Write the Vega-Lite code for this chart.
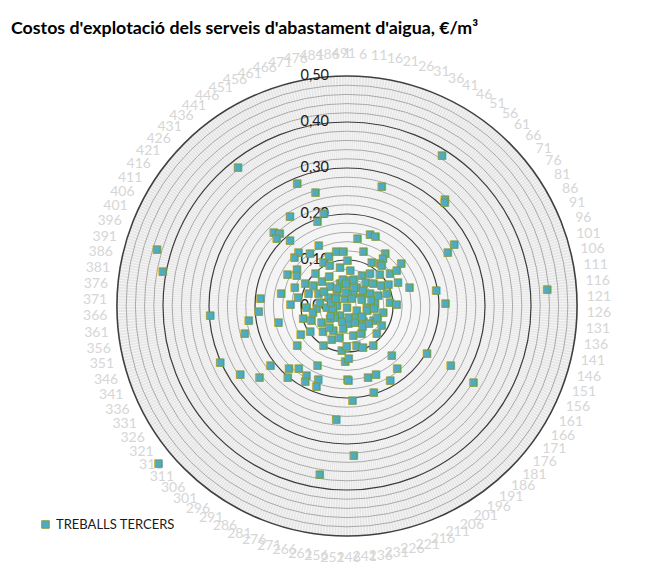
{
"$schema": "https://vega.github.io/schema/vega-lite/v6.json",
"width": 682, "height": 590,
"autosize": "none",
"padding": {"left": 6, "top": 11, "right": 0, "bottom": 0},
"background": "white",
"config": {"view": {"stroke": "#a6a6a6", "strokeWidth": 2}, "font": "Lato"},
"title": {"text": "Costos d'explotació dels serveis d'abastament d'aigua, €/m³", "anchor": "start", "frame": "group", "font": "Lato", "fontSize": 17.8, "fontWeight": "bold", "color": "#000000", "offset": -41, "dx": 5, "baseline": "alphabetic"},
"datasets": {
"spokes": [1,2,3,4,5,6,7,8,9,10,11,12,13,14,15,16,17,18,19,20,21,22,23,24,25,26,27,28,29,30,31,32,33,34,35,36,37,38,39,40,41,42,43,44,45,46,47,48,49,50,51,52,53,54,55,56,57,58,59,60,61,62,63,64,65,66,67,68,69,70,71,72,73,74,75,76,77,78,79,80,81,82,83,84,85,86,87,88,89,90,91,92,93,94,95,96,97,98,99,100,101,102,103,104,105,106,107,108,109,110,111,112,113,114,115,116,117,118,119,120,121,122,123,124,125,126,127,128,129,130,131,132,133,134,135,136,137,138,139,140,141,142,143,144,145,146,147,148,149,150,151,152,153,154,155,156,157,158,159,160,161,162,163,164,165,166,167,168,169,170,171,172,173,174,175,176,177,178,179,180,181,182,183,184,185,186,187,188,189,190,191,192,193,194,195,196,197,198,199,200,201,202,203,204,205,206,207,208,209,210,211,212,213,214,215,216,217,218,219,220,221,222,223,224,225,226,227,228,229,230,231,232,233,234,235,236,237,238,239,240,241,242,243,244,245,246,247,248,249,250,251,252,253,254,255,256,257,258,259,260,261,262,263,264,265,266,267,268,269,270,271,272,273,274,275,276,277,278,279,280,281,282,283,284,285,286,287,288,289,290,291,292,293,294,295,296,297,298,299,300,301,302,303,304,305,306,307,308,309,310,311,312,313,314,315,316,317,318,319,320,321,322,323,324,325,326,327,328,329,330,331,332,333,334,335,336,337,338,339,340,341,342,343,344,345,346,347,348,349,350,351,352,353,354,355,356,357,358,359,360,361,362,363,364,365,366,367,368,369,370,371,372,373,374,375,376,377,378,379,380,381,382,383,384,385,386,387,388,389,390,391,392,393,394,395,396,397,398,399,400,401,402,403,404,405,406,407,408,409,410,411,412,413,414,415,416,417,418,419,420,421,422,423,424,425,426,427,428,429,430,431,432,433,434,435,436,437,438,439,440,441,442,443,444,445,446,447,448,449,450,451,452,453,454,455,456,457,458,459,460,461,462,463,464,465,466,467,468,469,470,471,472,473,474,475,476,477,478,479,480,481,482,483,484,485,486,487,488,489,490,491],
"catlabels": [1,6,11,16,21,26,31,36,41,46,51,56,61,66,71,76,81,86,91,96,101,106,111,116,121,126,131,136,141,146,151,156,161,166,171,176,181,186,191,196,201,206,211,216,221,226,231,236,241,246,251,256,261,266,271,276,281,286,291,296,301,306,311,316,321,326,331,336,341,346,351,356,361,366,371,376,381,386,391,396,401,406,411,416,421,426,431,436,441,446,451,456,461,466,471,476,481,486,491],
"minor": [{"r":0.02},{"r":0.04},{"r":0.06},{"r":0.08},{"r":0.12},{"r":0.14},{"r":0.16},{"r":0.18},{"r":0.22},{"r":0.24},{"r":0.26},{"r":0.28},{"r":0.32},{"r":0.34},{"r":0.36},{"r":0.38},{"r":0.42},{"r":0.44},{"r":0.46},{"r":0.48}],
"major": [{"r":0.1},{"r":0.2},{"r":0.3},{"r":0.4}],
"outer": [{"r":0.5}],
"ticks": [{"r":0,"t":"0,00"},{"r":0.1,"t":"0,10"},{"r":0.2,"t":"0,20"},{"r":0.3,"t":"0,30"},{"r":0.4,"t":"0,40"},{"r":0.5,"t":"0,50"}],
"pts": [
{"c":440,"v":0.384},{"c":462,"v":0.289},{"c":471,"v":0.258},{"c":473,"v":0.209},{"c":466,"v":0.196},{"c":448,"v":0.232},{"c":431,"v":0.226},{"c":434,"v":0.216},{"c":429,"v":0.212},{"c":436,"v":0.189},{"c":458,"v":0.146},{"c":435,"v":0.158},{"c":392,"v":0.431},{"c":384,"v":0.408},{"c":376,"v":0.189},{"c":385,"v":0.146},{"c":408,"v":0.147},{"c":419,"v":0.135},{"c":372,"v":0.123},{"c":465,"v":0.115},{"c":477,"v":0.122},{"c":487,"v":0.120},
{"c":45,"v":0.387},{"c":23,"v":0.271},{"c":59,"v":0.315},{"c":60,"v":0.310},{"c":83,"v":0.269},{"c":85,"v":0.249},{"c":117,"v":0.437},{"c":110,"v":0.197},{"c":101,"v":0.142},{"c":71,"v":0.151},{"c":13,"v":0.149},{"c":25,"v":0.165},{"c":31,"v":0.165},{"c":24,"v":0.124},{"c":50,"v":0.142},{"c":51,"v":0.131},{"c":52,"v":0.119},{"c":121,"v":0.214},
{"c":364,"v":0.298},{"c":365,"v":0.192},{"c":358,"v":0.216},{"c":351,"v":0.153},{"c":349,"v":0.230},{"c":317,"v":0.138},{"c":337,"v":0.301},{"c":325,"v":0.275},{"c":316,"v":0.245},{"c":318,"v":0.210},{"c":305,"v":0.185},{"c":298,"v":0.171},{"c":301,"v":0.201},{"c":288,"v":0.174},{"c":286,"v":0.187},{"c":283,"v":0.143},{"c":276,"v":0.170},{"c":275,"v":0.186},{"c":254,"v":0.246},{"c":259,"v":0.371},{"c":315,"v":0.533},{"c":246,"v":0.159},{"c":249,"v":0.120},
{"c":165,"v":0.201},{"c":164,"v":0.259},{"c":166,"v":0.321},{"c":189,"v":0.145},{"c":193,"v":0.173},{"c":215,"v":0.160},{"c":224,"v":0.160},{"c":205,"v":0.186},{"c":223,"v":0.196},{"c":242,"v":0.205},{"c":245,"v":0.161},{"c":243,"v":0.324},
{"c":428,"v":0.156},{"c":444,"v":0.140},{"c":454,"v":0.109},{"c":41,"v":0.110},{"c":412,"v":0.128},{"c":432,"v":0.099},{"c":461,"v":0.097},{"c":478,"v":0.087},{"c":8,"v":0.079},{"c":36,"v":0.075},{"c":49,"v":0.087},{"c":56,"v":0.117},{"c":73,"v":0.117},{"c":75,"v":0.133},{"c":397,"v":0.121},{"c":409,"v":0.104},{"c":413,"v":0.086},{"c":430,"v":0.076},{"c":437,"v":0.056},{"c":469,"v":0.052},{"c":5,"v":0.057},{"c":37,"v":0.047},{"c":53,"v":0.066},{"c":68,"v":0.076},{"c":81,"v":0.088},{"c":86,"v":0.102},{"c":89,"v":0.123},{"c":383,"v":0.108},{"c":394,"v":0.088},{"c":402,"v":0.068},{"c":406,"v":0.045},{"c":443,"v":0.038},{"c":472,"v":0.017},{"c":38,"v":0.031},{"c":79,"v":0.038},{"c":84,"v":0.057},{"c":97,"v":0.072},{"c":100,"v":0.091},{"c":116,"v":0.094},{"c":368,"v":0.088},{"c":363,"v":0.066},{"c":367,"v":0.044},{"c":377,"v":0.022},{"c":250,"v":0.003},{"c":154,"v":0.023},{"c":126,"v":0.043},{"c":115,"v":0.061},{"c":136,"v":0.080},{"c":120,"v":0.108},{"c":348,"v":0.099},{"c":340,"v":0.083},{"c":326,"v":0.065},{"c":320,"v":0.046},{"c":297,"v":0.025},{"c":240,"v":0.038},{"c":190,"v":0.031},{"c":183,"v":0.049},{"c":162,"v":0.065},{"c":163,"v":0.086},{"c":327,"v":0.117},{"c":323,"v":0.096},{"c":306,"v":0.076},{"c":287,"v":0.060},{"c":260,"v":0.049},{"c":230,"v":0.065},{"c":208,"v":0.067},{"c":182,"v":0.088},{"c":289,"v":0.099},{"c":256,"v":0.096},{"c":247,"v":0.088},{"c":228,"v":0.087},{"c":217,"v":0.095},{"c":200,"v":0.102},{"c":244,"v":0.114},
{"c":10,"v":0.030},{"c":20,"v":0.060},{"c":30,"v":0.045},{"c":46,"v":0.020},{"c":62,"v":0.050},{"c":90,"v":0.035},{"c":105,"v":0.055},{"c":140,"v":0.045},{"c":150,"v":0.070},{"c":170,"v":0.040},{"c":175,"v":0.060},{"c":195,"v":0.055},{"c":210,"v":0.040},{"c":235,"v":0.025},{"c":265,"v":0.070},{"c":270,"v":0.035},{"c":280,"v":0.080},{"c":300,"v":0.060},{"c":310,"v":0.035},{"c":330,"v":0.040},{"c":355,"v":0.075},{"c":360,"v":0.030},{"c":380,"v":0.060},{"c":390,"v":0.035},{"c":415,"v":0.060},{"c":420,"v":0.030},{"c":450,"v":0.075},{"c":455,"v":0.045},{"c":480,"v":0.060},{"c":485,"v":0.030},{"c":490,"v":0.050},{"c":2,"v":0.100},{"c":63,"v":0.100},{"c":130,"v":0.060}
]
},
"layer": [
{"data": {"name": "outer"}, "mark": {"type": "arc", "fill": "#e6e6e6"},
 "encoding": {"theta": {"datum": 1, "type": "quantitative", "stack": null, "scale": {"domain": [1, 492], "range": [0, 6.283185307179586]}}, "theta2": {"datum": 492},
  "radius": {"field": "r", "type": "quantitative", "stack": null, "scale": {"type": "linear", "domain": [0, 0.5], "range": [0, 230], "zero": true, "nice": false}}}},
{"data": {"name": "spokes"}, "mark": {"type": "arc", "filled": false, "stroke": "#ffffff", "strokeWidth": 0.6, "strokeOpacity": 0.7},
 "encoding": {"theta": {"field": "data", "type": "quantitative", "stack": null, "scale": {"domain": [1, 492], "range": [0, 6.283185307179586]}}, "theta2": {"field": "data"},
  "radius": {"datum": 0.5, "type": "quantitative", "stack": null, "scale": {"type": "linear", "domain": [0, 0.5], "range": [0, 230], "zero": true, "nice": false}}}},
{"data": {"name": "minor"}, "mark": {"type": "arc", "filled": false, "stroke": "#aaaaaa", "strokeWidth": 1},
 "encoding": {"theta": {"datum": 1, "type": "quantitative", "stack": null, "scale": {"domain": [1, 492], "range": [0, 6.283185307179586]}}, "theta2": {"datum": 492},
  "radius": {"field": "r", "type": "quantitative", "stack": null, "scale": {"type": "linear", "domain": [0, 0.5], "range": [0, 230], "zero": true, "nice": false}}}},
{"data": {"name": "major"}, "mark": {"type": "arc", "filled": false, "stroke": "#3c3c3c", "strokeWidth": 1.2},
 "encoding": {"theta": {"datum": 1, "type": "quantitative", "stack": null, "scale": {"domain": [1, 492], "range": [0, 6.283185307179586]}}, "theta2": {"datum": 492},
  "radius": {"field": "r", "type": "quantitative", "stack": null, "scale": {"type": "linear", "domain": [0, 0.5], "range": [0, 230], "zero": true, "nice": false}}}},
{"data": {"name": "outer"}, "mark": {"type": "arc", "filled": false, "stroke": "#404040", "strokeWidth": 1.6},
 "encoding": {"theta": {"datum": 1, "type": "quantitative", "stack": null, "scale": {"domain": [1, 492], "range": [0, 6.283185307179586]}}, "theta2": {"datum": 492},
  "radius": {"field": "r", "type": "quantitative", "stack": null, "scale": {"type": "linear", "domain": [0, 0.5], "range": [0, 230], "zero": true, "nice": false}}}},
{"data": {"name": "ticks"}, "mark": {"type": "text", "align": "right", "baseline": "middle", "dx": -18, "fontSize": 14.5, "font": "Lato", "color": "#1a1a1a"},
 "encoding": {"theta": {"datum": 1, "type": "quantitative", "stack": null, "scale": {"domain": [1, 492], "range": [0, 6.283185307179586]}},
  "radius": {"field": "r", "type": "quantitative", "stack": null, "scale": {"type": "linear", "domain": [0, 0.5], "range": [0, 230], "zero": true, "nice": false}},
  "text": {"field": "t", "type": "nominal"}}},
{"data": {"name": "catlabels"}, "mark": {"type": "text", "align": "center", "baseline": "middle", "fontSize": 14, "font": "Lato", "color": "#d6d6d6"},
 "encoding": {"theta": {"field": "data", "type": "quantitative", "stack": null, "scale": {"domain": [1, 492], "range": [0, 6.283185307179586]}},
  "radius": {"value": 252},
  "text": {"field": "data", "type": "nominal"}}},
{"data": {"name": "pts"}, "mark": {"type": "text", "text": "■", "font": "DejaVu Sans", "fontSize": 9.5, "align": "center", "baseline": "middle", "stroke": "#7f9b3c", "strokeWidth": 1},
 "encoding": {"theta": {"field": "c", "type": "quantitative", "stack": null, "scale": {"domain": [1, 492], "range": [0, 6.283185307179586]}},
  "radius": {"field": "v", "type": "quantitative", "stack": null, "scale": {"type": "linear", "domain": [0, 0.5], "range": [0, 230], "zero": true, "nice": false}},
  "color": {"datum": "TREBALLS TERCERS", "type": "nominal", "scale": {"range": ["#4bacc6"]},
   "legend": {"orient": "none", "legendX": 33, "legendY": 507, "title": null, "symbolType": "square", "symbolSize": 56, "symbolStrokeColor": "#7f9b3c", "symbolStrokeWidth": 1, "labelFont": "Lato", "labelFontSize": 13, "labelColor": "#1a1a1a", "labelOffset": 4, "padding": 0}}}}
]
}
